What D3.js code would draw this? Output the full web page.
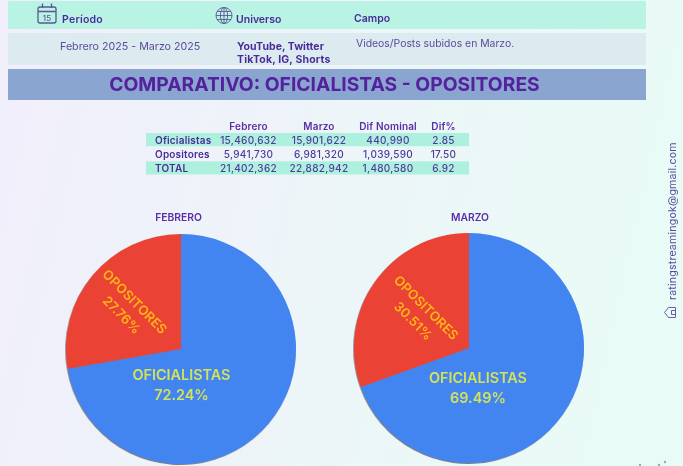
<!DOCTYPE html>
<html><head><meta charset="utf-8">
<script src="https://cdn.jsdelivr.net/npm/d3@7"></script>
<style>html,body{margin:0;padding:0;background:#fff}svg{display:block}text{font-family:Inter,"Open Sans",sans-serif}</style>
</head><body><svg id="c" width="683" height="466"></svg>
<script>
const columns = ["Febrero","Marzo","Dif Nominal","Dif%"];
const rowNames = ["Oficialistas","Opositores","TOTAL"];
const febrero = [15460632,5941730,21402362];
const marzo = [15901622,6981320,22882942];
const difNominal = [440990,1039590,1480580];
const difPct = ["2.85","17.50","6.92"];
const pieNames = ["OFICIALISTAS","OPOSITORES"];
const piePctFeb = ["72.24%","27.76%"];
const piePctMar = ["69.49%","30.51%"];
const universo = ["YouTube, Twitter","TikTok, IG, Shorts"];

const P="#5a2ea6", PD="#4a2c9a";
const svg=d3.select("#c");
const defs=svg.append("defs");
const g=defs.append("linearGradient").attr("id","bg").attr("x1",0).attr("y1",0).attr("x2",1).attr("y2",0.15);
g.append("stop").attr("offset",0).attr("stop-color","#f1eefb");
g.append("stop").attr("offset",1).attr("stop-color","#e9fbf6");
const blur=defs.append("filter").attr("id","soft").attr("x","-5%").attr("y","-5%").attr("width","110%").attr("height","110%");
blur.append("feGaussianBlur").attr("stdDeviation",0.4);
const sh=defs.append("filter").attr("id","sh").attr("x","-5%").attr("y","-5%").attr("width","110%").attr("height","110%");
sh.append("feDropShadow").attr("dx",-0.6).attr("dy",0.8).attr("stdDeviation",0.5).attr("flood-color","#222").attr("flood-opacity",0.7);

svg.append("rect").attr("width",683).attr("height",466).attr("fill","url(#bg)");
const root=svg.append("g").attr("filter","url(#soft)");

[[1,29,"#b9f3e4"],[33,65,"#dcebf0"],[69,100,"#8aa5cf"]].forEach(([a,b,c])=>
  root.append("rect").attr("x",8).attr("y",a).attr("width",638).attr("height",b-a).attr("fill",c));

function T(x,y,s,size,weight,fill,anchor,ls){
  return root.append("text").attr("x",x).attr("y",y).text(s).attr("font-size",size).attr("font-weight",weight)
   .attr("fill",fill).attr("text-anchor",anchor||"start").attr("letter-spacing",ls||0);
}
T(62,23,"Período",10.5,600,PD,"start",0.25);
T(236,23,"Universo",10.5,600,PD);
T(354,22,"Campo",10.5,600,PD);
T(60,50,"Febrero 2025 - Marzo 2025",10.7,400,"#5b4a9c");
T(237,50,universo[0],10.5,700,PD,"start",0.05);
T(237,63,universo[1],10.5,700,PD,"start",0.18);
T(356,47,"Videos/Posts subidos en Marzo.",10.4,400,"#5b4a9c");
T(324.5,91,"COMPARATIVO: OFICIALISTAS - OPOSITORES",19.3,700,"#54209f","middle");

// calendar icon
const ic=root.append("g").attr("fill","none").attr("stroke","#5d5598").attr("stroke-width",1.3);
ic.append("rect").attr("x",38).attr("y",7).attr("width",18).attr("height",16).attr("rx",2);
ic.append("path").attr("d","M38 11.5H56M42.5 3.5V8M51.5 3.5V8");
T(47,21,"15",8,500,"#5d5598","middle");
// globe icon
const gl=root.append("g").attr("fill","none").attr("stroke","#5d5598").attr("stroke-width",0.9);
gl.append("circle").attr("cx",224).attr("cy",15.5).attr("r",8);
gl.append("ellipse").attr("cx",224).attr("cy",15.5).attr("rx",3.6).attr("ry",8);
gl.append("path").attr("d","M224 7.5V23.5M216 15.5H232M217 11.5H231M217 19.5H231");

// table
const rowY=d3.scaleBand().domain(d3.range(3)).range([133,175.5]);
[0,2].forEach(i=>root.append("rect").attr("x",146).attr("y",rowY(i)).attr("width",323).attr("height",rowY.bandwidth()-1).attr("fill","#aef0de"));
const colX=[248.5,319,388,443.5];
columns.forEach((c,i)=>T(colX[i],130,c,10,600,P,"middle",0.15));
const fmt=d3.format(",");
rowNames.forEach((r,i)=>{
  const y=rowY(i)+10.8;
  T(155,y,r,10,600,PD,"start",0.2);
  T(colX[0],y,fmt(febrero[i]),10,500,"#4f3a9c","middle",0.3);
  T(colX[1],y,fmt(marzo[i]),10,500,"#4f3a9c","middle",0.3);
  T(colX[2],y,fmt(difNominal[i]),10,500,"#4f3a9c","middle",0.3);
  T(colX[3],y,difPct[i],10,500,"#4f3a9c","middle",0.3);
});
T(178.5,221,"FEBRERO",10.3,600,P,"middle");
T(470,221,"MARZO",10.3,600,P,"middle");

const col=d3.scaleOrdinal().domain(pieNames).range(["#4285f0","#ea4335"]);
const pie=d3.pie().sort(null);
const arc=d3.arc().innerRadius(0).outerRadius(115);
function drawPie(cx,cy,vals,pcts,blue,red){
  const p=root.append("g").attr("transform",`translate(${cx},${cy})`);
  p.append("g").attr("filter","url(#sh)").selectAll("path").data(pie(vals)).join("path")
    .attr("d",arc).attr("fill",(d,i)=>col(pieNames[i]));
  const lab=(x,y,rot,s,pct,fill,sz,gap)=>{
    const t=p.append("g").attr("transform",`translate(${x},${y}) rotate(${rot})`);
    t.append("text").attr("text-anchor","middle").attr("font-size",sz).attr("font-weight",600).attr("fill",fill).text(s);
    t.append("text").attr("y",gap).attr("text-anchor","middle").attr("font-size",sz).attr("font-weight",600).attr("fill",fill).text(pct);
  };
  lab(blue[0],blue[1],0,pieNames[0],pcts[0],"#d4e25a",14.4,20);
  lab(red[0],red[1],45,pieNames[1],pcts[1],"#fdb515",13.2,18.5);
}
drawPie(181,349,[febrero[0],febrero[1]],piePctFeb,[0.5,31],[-49.5,-44]);
drawPie(469,348,[marzo[0],marzo[1]],piePctMar,[9,35],[-46,-37]);

// side credit
root.append("text").attr("transform","translate(676,300) rotate(-90)").attr("font-size",10.6).attr("font-weight",400).attr("letter-spacing",0.2).attr("fill","#5b4a9c").text("ratingstreamingok@gmail.com");
const h=root.append("g").attr("transform","translate(670.5,312.5) rotate(-90)").attr("fill","none").attr("stroke","#6a5ba8").attr("stroke-width",1);
h.append("path").attr("d","M-5 5V-2L0 -6L5 -2V5Z M-2 5V1H2V5");
// faint marks cut by bottom edge
[[640,465],[659,465],[665,462]].forEach(([x,y])=>root.append("circle").attr("cx",x).attr("cy",y).attr("r",1.2).attr("fill","#9aa6a8"));
</script></body></html>
